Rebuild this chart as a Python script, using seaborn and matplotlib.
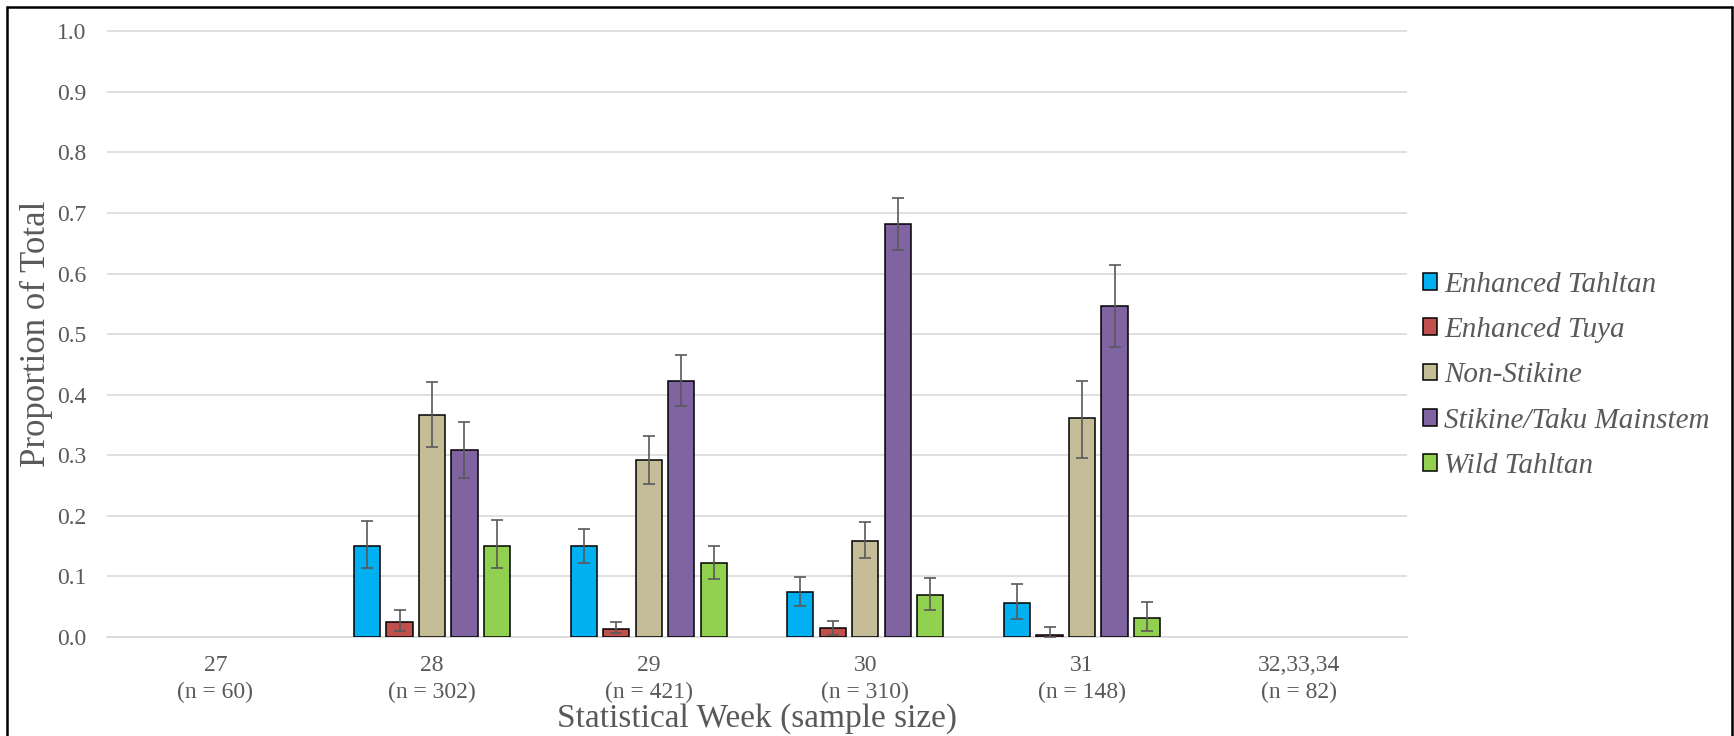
import matplotlib
matplotlib.use("Agg")
import matplotlib.pyplot as plt
import matplotlib.lines as mlines
import seaborn as sns
import pandas as pd

# category labels on the x axis (week + sample size)
week_labels = ["27\n(n = 60)", "28\n(n = 302)", "29\n(n = 421)",
               "30\n(n = 310)", "31\n(n = 148)", "32,33,34\n(n = 82)"]
# weeks that have estimates
data_weeks = ["28\n(n = 302)", "29\n(n = 421)", "30\n(n = 310)", "31\n(n = 148)"]

stocks = ["Enhanced Tahltan", "Enhanced Tuya", "Non-Stikine",
          "Stikine/Taku Mainstem", "Wild Tahltan"]
colors = ["#00B0F0", "#C0504D", "#C4BD97", "#8064A2", "#92D050"]

# proportions per stock for weeks 28..31
enh_tahltan = [0.151, 0.150, 0.074, 0.056]
enh_tuya = [0.025, 0.014, 0.015, 0.004]
non_stikine = [0.367, 0.292, 0.159, 0.362]
stikine_taku = [0.309, 0.422, 0.681, 0.546]
wild_tahltan = [0.151, 0.122, 0.070, 0.031]

# lower / upper bounds of the error bars
enh_tahltan_lo = [0.114, 0.122, 0.051, 0.030]
enh_tahltan_hi = [0.191, 0.178, 0.099, 0.087]
enh_tuya_lo = [0.010, 0.006, 0.003, 0.000]
enh_tuya_hi = [0.044, 0.025, 0.027, 0.017]
non_stikine_lo = [0.313, 0.252, 0.130, 0.295]
non_stikine_hi = [0.421, 0.332, 0.190, 0.422]
stikine_taku_lo = [0.263, 0.381, 0.639, 0.479]
stikine_taku_hi = [0.355, 0.465, 0.724, 0.614]
wild_tahltan_lo = [0.114, 0.095, 0.045, 0.010]
wild_tahltan_hi = [0.193, 0.151, 0.097, 0.058]

values = [enh_tahltan, enh_tuya, non_stikine, stikine_taku, wild_tahltan]
lows = [enh_tahltan_lo, enh_tuya_lo, non_stikine_lo, stikine_taku_lo, wild_tahltan_lo]
highs = [enh_tahltan_hi, enh_tuya_hi, non_stikine_hi, stikine_taku_hi, wild_tahltan_hi]

rows = []
for s, v, lo, hi in zip(stocks, values, lows, highs):
    for w, val, l, h in zip(data_weeks, v, lo, hi):
        rows.append({"week": w, "stock": s, "prop": val, "lo": l, "hi": h})
df = pd.DataFrame(rows)

sns.set_style("white")
plt.rcParams["font.family"] = ["Liberation Serif", "DejaVu Serif"]
txt = "#595959"

fig = plt.figure(figsize=(17.34, 7.36), dpi=100)
ax = fig.add_axes([107 / 1734, 1 - 637 / 736, 1300 / 1734, 607 / 736])

sns.barplot(data=df, x="week", y="prop", hue="stock", order=week_labels,
            hue_order=stocks, palette=colors, saturation=1, width=0.75, gap=0.19,
            edgecolor="black", linewidth=1.1, errorbar=None, ax=ax, zorder=3)

# asymmetric error bars
for cont, s in zip(ax.containers, stocks):
    sub = df[df["stock"] == s]
    for bar in cont:
        xc = bar.get_x() + bar.get_width() / 2
        idx = int(round(xc))
        row = sub[sub["week"] == week_labels[idx]]
        if row.empty:
            continue
        r = row.iloc[0]
        ax.errorbar(xc, r["prop"], yerr=[[r["prop"] - r["lo"]], [r["hi"] - r["prop"]]],
                    fmt="none", ecolor="#595959", elinewidth=1.2, capsize=4,
                    capthick=1.2, zorder=4)

ax.set_xlim(-0.5, len(week_labels) - 0.5)
ax.set_ylim(0, 1.002)
ax.set_yticks([i / 10 for i in range(11)])
ax.set_yticklabels([f"{i / 10:.1f}" for i in range(11)])
ax.yaxis.grid(True, color="#d9d9d9", linewidth=1.2, zorder=0)
ax.xaxis.grid(False)
ax.set_axisbelow(True)

for sp in ["top", "right", "left"]:
    ax.spines[sp].set_visible(False)
ax.spines["bottom"].set_color("#d9d9d9")
ax.spines["bottom"].set_linewidth(1.2)

ax.set_xticks(range(len(week_labels)))
ax.set_xticklabels(week_labels, linespacing=1.35)
ax.set_xticks([i - 0.5 for i in range(len(week_labels) + 1)], minor=True)
ax.tick_params(axis="x", which="major", length=0, pad=13, labelsize=17, labelcolor=txt)
ax.tick_params(axis="x", which="minor", length=6, width=1.2, color="#d9d9d9", direction="out")
ax.tick_params(axis="y", length=0, pad=15, labelsize=17, labelcolor=txt)

ax.set_xlabel("Statistical Week (sample size)", fontsize=24, color=txt, labelpad=0)
ax.set_ylabel("Proportion of Total", fontsize=25, color=txt, labelpad=3)

handles, labels = ax.get_legend_handles_labels()
for h in handles:
    h.set_edgecolor("black")
    h.set_linewidth(1.1)
leg = ax.legend(handles, labels, loc="center left", bbox_to_anchor=(1.012, 0.431),
                frameon=False, fontsize=21, handlelength=0.5, handleheight=0.5,
                handletextpad=0.25, labelspacing=0.66, borderaxespad=0, borderpad=0)
for t in leg.get_texts():
    t.set_color(txt)
    t.set_fontstyle("italic")

# outer frame around the chart (left, top, right)
fx0, fx1, fy1 = 7 / 1734, 1732 / 1734, 1 - 7 / 736
for xs, ys in [([fx0, fx0], [0, fy1]), ([fx0, fx1], [fy1, fy1]), ([fx1, fx1], [0, fy1])]:
    fig.add_artist(mlines.Line2D(xs, ys, transform=fig.transFigure, color="black", linewidth=1.8))

fig.savefig("out.png", dpi=100)
